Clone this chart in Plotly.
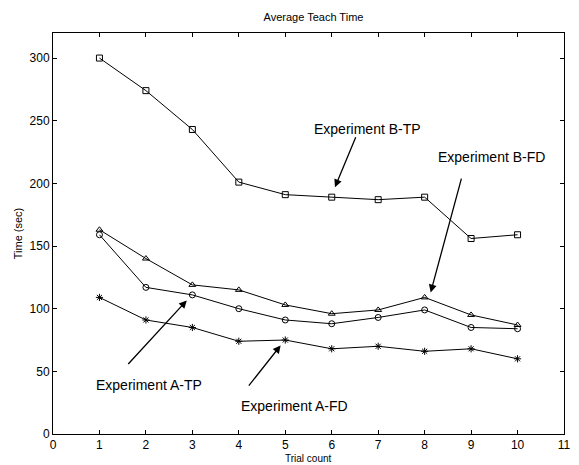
import plotly.graph_objects as go

trials = [1, 2, 3, 4, 5, 6, 7, 8, 9, 10]
b_tp = [300, 274, 243, 201, 191, 189, 187, 189, 156, 159]
b_fd = [163, 140, 119, 115, 103, 96, 99, 109, 95, 87]
a_tp = [159, 117, 111, 100, 91, 88, 93, 99, 85, 84]
a_fd = [109, 91, 85, 74, 75, 68, 70, 66, 68, 60]

x_ticks = list(range(0, 12))
y_ticks = [0, 50, 100, 150, 200, 250, 300]

font = "Liberation Sans, Arial, sans-serif"

fig = go.Figure()
series = [
    ("B-TP", b_tp, "square-open"),
    ("B-FD", b_fd, "triangle-up-open"),
    ("A-TP", a_tp, "circle-open"),
    ("A-FD", a_fd, "asterisk-open"),
]
for name, vals, sym in series:
    fig.add_trace(go.Scatter(
        x=trials, y=vals, mode="lines+markers", name=name,
        line=dict(color="black", width=1),
        marker=dict(symbol=sym, size=6, color="black",
                    line=dict(color="black", width=1)),
        showlegend=False,
    ))

notes = [
    ("Experiment B-TP", 6.78, 243, 6.53, 238, 6.07, 197),
    ("Experiment B-FD", 9.44, 221, 8.8, 205, 8.13, 113),
    ("Experiment A-TP", 2.06, 39.5, 1.59, 54.7, 2.88, 106.6),
    ("Experiment A-FD", 5.19, 22, 4.19, 37.4, 4.9, 70.7),
]
for text, tx, ty, x0, y0, x1, y1 in notes:
    fig.add_annotation(x=tx, y=ty, text=text, showarrow=False,
                       font=dict(family=font, size=14, color="black"))
    fig.add_annotation(x=x1, y=y1, ax=x0, ay=y0, xref="x", yref="y",
                       axref="x", ayref="y", text="", showarrow=True,
                       arrowhead=2, arrowsize=1.2, arrowwidth=1.3,
                       arrowcolor="black")

# x-axis title placed just under the tick labels
fig.add_annotation(x=0.5, y=0, xref="paper", yref="paper", yshift=-17,
                   text="Trial count", showarrow=False, yanchor="top",
                   font=dict(family=font, size=10, color="black"))

axis_common = dict(
    showline=True, linecolor="black", linewidth=1, mirror="ticks",
    ticks="inside", ticklen=4, tickcolor="black", showgrid=False,
    zeroline=False, tickfont=dict(family=font, size=12, color="black"),
)
fig.update_xaxes(range=[0, 11], tickvals=x_ticks, **axis_common)
fig.update_yaxes(range=[0, 320], tickvals=y_ticks,
                 title=dict(text="Time (sec)", font=dict(family=font, size=11, color="black"), standoff=4),
                 **axis_common)

# the page body adds an 8px offset, so the figure is sized to fit the window
fig.update_layout(
    width=571, height=457,
    margin=dict(l=45, r=8, t=25, b=31),
    paper_bgcolor="white", plot_bgcolor="white",
    title=dict(text="Average Teach Time", x=0.535, xanchor="center", y=0.98, yanchor="middle",
               font=dict(family=font, size=11, color="black")),
)

fig.write_html("out.html")
